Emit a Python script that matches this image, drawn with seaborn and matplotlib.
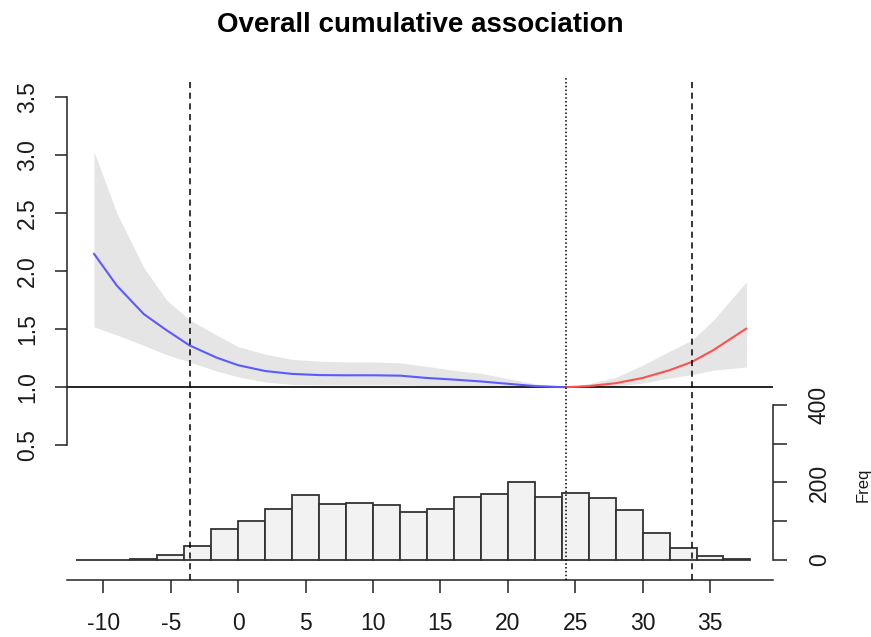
import matplotlib
matplotlib.use("Agg")
import matplotlib.pyplot as plt
import seaborn as sns

sns.set_style("white")
plt.rcParams["font.family"] = ["Liberation Sans", "DejaVu Sans"]

title = "Overall cumulative association"

# cold side (blue), from lowest temperature to the MMT
x_cold = [-10.7, -9.0, -7.0, -5.3, -3.6, -1.6, 0.0, 2.0, 4.0, 6.0, 8.0, 10.0,
          12.0, 14.0, 16.0, 18.0, 20.0, 22.0, 24.3]
rr_cold = [2.15, 1.875, 1.63, 1.49, 1.36, 1.255, 1.19, 1.14, 1.115, 1.105,
           1.103, 1.103, 1.10, 1.08, 1.066, 1.05, 1.03, 1.01, 1.0]
hi_cold = [3.03, 2.50, 2.03, 1.75, 1.58, 1.45, 1.35, 1.285, 1.24, 1.225,
           1.218, 1.218, 1.21, 1.18, 1.145, 1.12, 1.075, 1.03, 1.0]
lo_cold = [1.52, 1.45, 1.36, 1.28, 1.218, 1.14, 1.09, 1.045, 1.025, 1.02,
           1.02, 1.02, 1.02, 1.015, 1.01, 1.005, 1.0, 1.0, 1.0]

# hot side (red), from the MMT to the highest temperature
x_hot = [24.3, 26.0, 28.0, 30.0, 32.0, 33.65, 35.25, 37.7]
rr_hot = [1.0, 1.01, 1.035, 1.08, 1.147, 1.218, 1.32, 1.506]
hi_hot = [1.0, 1.03, 1.085, 1.19, 1.31, 1.405, 1.578, 1.908]
lo_hot = [1.0, 1.0, 1.01, 1.035, 1.08, 1.11, 1.147, 1.175]

# temperature histogram
hist_edges = list(range(-12, 40, 2))
hist_counts = [1, 1, 3, 13, 36, 79, 101, 132, 168, 145, 148, 141, 125, 131,
               163, 170, 200, 163, 174, 159, 129, 69, 32, 10, 2]

pct_low = -3.6
mmt = 24.3
pct_high = 33.65

x_ticks = [-10, -5, 0, 5, 10, 15, 20, 25, 30, 35]
y_ticks = [0.5, 1.0, 1.5, 2.0, 2.5, 3.0, 3.5]
freq_ticks = [0, 100, 200, 300, 400]
freq_labels = ["0", "", "200", "", "400"]

txt = "#1a1a1a"
fs = 16.5

fig = plt.figure(figsize=(8.71, 6.37), dpi=100)
ax = fig.add_axes([0.0766, 0.0895, 0.811, 0.7874])
ax.set_facecolor("white")

ax.fill_between(x_cold, lo_cold, hi_cold, color="#e5e5e5", lw=0, zorder=1)
ax.fill_between(x_hot, lo_hot, hi_hot, color="#e5e5e5", lw=0, zorder=1)
ax.axhline(1.0, color="black", lw=1.2, zorder=2)
sns.lineplot(x=x_cold, y=rr_cold, ax=ax, color="#5a5aff", lw=1.5, zorder=3)
sns.lineplot(x=x_hot, y=rr_hot, ax=ax, color="#ff5050", lw=1.5, zorder=3)

ax.set_xlim(-12.72, 39.68)
ax.set_ylim(-0.66, 3.66)
ax.set_xticks(x_ticks)
ax.set_xticklabels([str(v) for v in x_ticks])
ax.set_yticks(y_ticks)
ax.set_yticklabels([f"{v:.1f}" for v in y_ticks], rotation=90, va="center")

for s in ["top", "right"]:
    ax.spines[s].set_visible(False)
ax.spines["left"].set_bounds(0.5, 3.5)
for s in ["left", "bottom"]:
    ax.spines[s].set_color("#222222")
    ax.spines[s].set_linewidth(1.1)
ax.tick_params(axis="both", direction="out", length=9, width=1.1, color="#222222",
               labelsize=fs, labelcolor=txt, left=True, bottom=True)
ax.tick_params(axis="y", pad=11)
ax.tick_params(axis="x", pad=14)
ax.set_xlabel("")
ax.set_ylabel("")

# histogram on secondary axis
ax2 = ax.twinx()
centers = [(hist_edges[i] + hist_edges[i + 1]) / 2 for i in range(len(hist_counts))]
sns.histplot(x=centers, weights=hist_counts, bins=hist_edges, ax=ax2,
             color="#f2f2f2", edgecolor="#333333", linewidth=1.3, alpha=1)
ax2.set_xlim(-12.72, 39.68)
ax2.set_ylim(-51.6, 1242.6)
ax2.set_yticks(freq_ticks)
ax2.set_yticklabels(freq_labels, rotation=90, va="center")
ax2.set_ylabel("")
for s in ["top", "left", "bottom"]:
    ax2.spines[s].set_visible(False)
ax2.spines["right"].set_bounds(0, 400)
ax2.spines["right"].set_color("#222222")
ax2.spines["right"].set_linewidth(1.1)
ax2.tick_params(axis="y", direction="out", length=10, width=1.1, color="#222222",
                labelsize=fs, labelcolor=txt, pad=15, right=True)

for xv, ls in [(pct_low, (0, (4, 3))), (mmt, (0, (1, 1.5))), (pct_high, (0, (4, 3)))]:
    ax2.axvline(xv, color="black", lw=1.1, linestyle=ls, zorder=5)

fig.text(0.991, 1 - 485 / 637, "Freq", rotation=90, ha="center", va="center",
         fontsize=12, color=txt)
fig.text(420 / 871, 1 - 25 / 637, title, ha="center", va="center",
         fontsize=20, fontweight="bold", color="black")

fig.savefig("out.png", dpi=100)
